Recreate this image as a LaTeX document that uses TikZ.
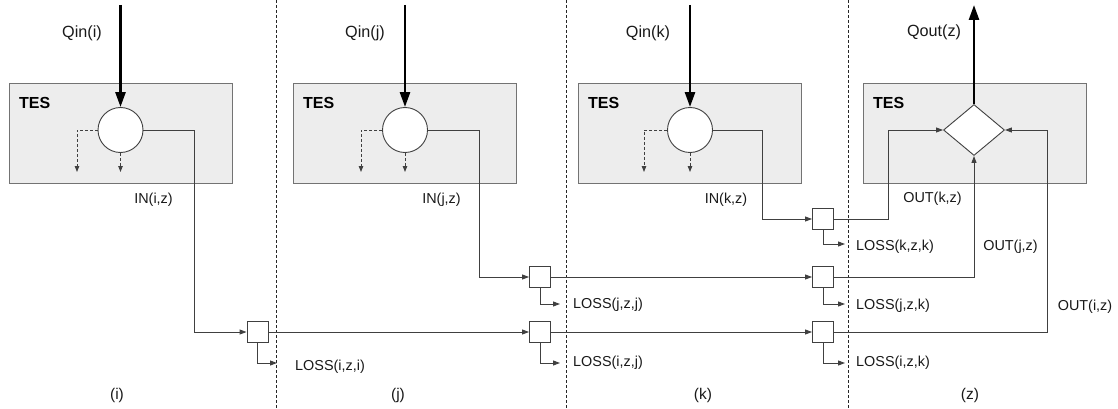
\documentclass[tikz,border=0pt]{standalone}
\usepackage{fontspec}
\setmainfont{Liberation Sans}
\usetikzlibrary{shapes.geometric,arrows.meta}
\begin{document}
\begin{tikzpicture}[x=1pt,y=-1pt,
  tesbox/.style={draw=black!55, fill=black!7, line width=0.9pt, minimum width=223pt, minimum height=100pt, inner sep=0pt},
  mixer/.style={draw=black!75, fill=white, circle, line width=0.9pt, minimum size=45pt, inner sep=0pt},
  junction/.style={draw=black!75, fill=white, line width=0.9pt, minimum size=21pt, inner sep=0pt},
  collector/.style={draw=black!75, fill=white, diamond, line width=0.9pt, minimum width=61pt, minimum height=51pt, inner sep=0pt},
  flow/.style={draw=black!75, line width=0.9pt, -{Triangle[length=7pt,width=5pt]}},
  heat/.style={draw=black, line width=2.6pt, -{Triangle[length=15pt,width=10pt]}},
  drop/.style={draw=black!75, line width=0.9pt, dash pattern=on 3pt off 2pt, -{Triangle[length=6pt,width=4.5pt]}},
  divider/.style={draw=black!85, line width=0.8pt, dash pattern=on 3pt off 2pt},
  lbl/.style={font=\fontsize{14.4}{16}\selectfont, text=black!90, inner sep=0pt},
  collbl/.style={font=\fontsize{15.5}{18}\selectfont, text=black!90, inner sep=0pt},
  qlbl/.style={font=\fontsize{16.2}{18}\selectfont, text=black!90, inner sep=0pt},
  teslbl/.style={font=\fontsize{16}{18}\selectfont\bfseries, text=black, inner sep=0pt, anchor=west}]
\useasboundingbox (0,0) rectangle (1118,409);

% column dividers
\foreach \x/\n in {276/a,566/b,848/c}{
  \coordinate (dt\n) at (\x,0);
  \coordinate (db\n) at (\x,409);
  \draw[divider] (dt\n) -- (db\n);
}

% TES boxes
\node[tesbox] (box1) at (120.5,133) {};
\node[tesbox] (box2) at (405,133) {};
\node[tesbox] (box3) at (689.5,133) {};
\node[tesbox] (box4) at (974.5,133) {};
\node[teslbl] (tes1) at (19,103) {TES};
\node[teslbl] (tes2) at (303,103) {TES};
\node[teslbl] (tes3) at (588,103) {TES};
\node[teslbl] (tes4) at (873,103) {TES};

% storage nodes
\node[mixer] (c1) at (120.5,130) {};
\node[mixer] (c2) at (405,130) {};
\node[mixer] (c3) at (690,130) {};
\node[collector] (d4) at (974,130) {};

% junctions
\node[junction] (siz1) at (257.5,332) {};
\node[junction] (sjz2) at (540,277) {};
\node[junction] (siz2) at (540,332) {};
\node[junction] (skz3) at (823,219) {};
\node[junction] (sjz3) at (823,277) {};
\node[junction] (siz3) at (823,332) {};

% heat in / out
\coordinate (qi1) at (120.5,5);
\coordinate (qi2) at (405,5);
\coordinate (qi3) at (690,5);
\coordinate (qo4) at (974,5);
\draw[heat] (qi1) -- (c1.north);
\draw[heat] (qi2) -- (c2.north);
\draw[heat] (qi3) -- (c3.north);
\draw[heat] (d4.north) -- (qo4);
\node[qlbl] (lqi1) at (82,33) {Qin(i)};
\node[qlbl] (lqi2) at (365,33) {Qin(j)};
\node[qlbl] (lqi3) at (648,33) {Qin(k)};
\node[qlbl] (lqo4) at (934,32) {Qout(z)};

% internal dashed drops
\coordinate (dl1) at (77,172); \coordinate (dd1) at (120.5,172);
\coordinate (dl2) at (361,172); \coordinate (dd2) at (405,172);
\coordinate (dl3) at (644,172); \coordinate (dd3) at (690,172);
\draw[drop] (c1.west) -| (dl1);
\draw[drop] (c1.south) -- (dd1);
\draw[drop] (c2.west) -| (dl2);
\draw[drop] (c2.south) -- (dd2);
\draw[drop] (c3.west) -| (dl3);
\draw[drop] (c3.south) -- (dd3);

% flows from storage i
\coordinate (ti1) at (194,130);
\draw[flow] (c1.east) -- (ti1) |- (siz1.west);
\draw[flow] (siz1.east) -- (siz2.west);
\draw[flow] (siz2.east) -- (siz3.west);
\coordinate (ti4) at (1047,332);
\coordinate (ti5) at (1047,130);
\draw[flow] (siz3.east) -- (ti4) -- (ti5) -- (d4.east);

% flows from storage j
\coordinate (tj1) at (479,130);
\draw[flow] (c2.east) -- (tj1) |- (sjz2.west);
\draw[flow] (sjz2.east) -- (sjz3.west);
\coordinate (tj4) at (974,277);
\draw[flow] (sjz3.east) -- (tj4) -- (d4.south);

% flows from storage k
\coordinate (tk1) at (762,130);
\draw[flow] (c3.east) -- (tk1) |- (skz3.west);
\coordinate (tk4) at (888,219);
\coordinate (tk5) at (888,130);
\draw[flow] (skz3.east) -- (tk4) -- (tk5) -- (d4.west);

% losses
\coordinate (liz1) at (277,363);
\coordinate (ljz2) at (560,304);
\coordinate (liz2) at (560,363);
\coordinate (lkz3) at (845,244);
\coordinate (ljz3) at (845,304);
\coordinate (liz3) at (845,363);
\draw[flow] (siz1.south) |- (liz1);
\draw[flow] (sjz2.south) |- (ljz2);
\draw[flow] (siz2.south) |- (liz2);
\draw[flow] (skz3.south) |- (lkz3);
\draw[flow] (sjz3.south) |- (ljz3);
\draw[flow] (siz3.south) |- (liz3);
\node[lbl, anchor=west] (tliz1) at (295,367) {LOSS(i,z,i)};
\node[lbl, anchor=west] (tljz2) at (573,305) {LOSS(j,z,j)};
\node[lbl, anchor=west] (tliz2) at (573,363) {LOSS(i,z,j)};
\node[lbl, anchor=west] (tlkz3) at (856,247) {LOSS(k,z,k)};
\node[lbl, anchor=west] (tljz3) at (856,306) {LOSS(j,z,k)};
\node[lbl, anchor=west] (tliz3) at (856,363) {LOSS(i,z,k)};

% flow labels
\node[lbl] (tin1) at (153.5,200) {IN(i,z)};
\node[lbl] (tin2) at (441.5,200) {IN(j,z)};
\node[lbl] (tin3) at (726,200) {IN(k,z)};
\node[lbl] (tout3) at (932.5,199) {OUT(k,z)};
\node[lbl] (tout2) at (1010.5,247) {OUT(j,z)};
\node[lbl] (tout1) at (1085,307) {OUT(i,z)};

% column labels
\node[collbl] (coli) at (117,395) {(i)};
\node[collbl] (colj) at (398,395) {(j)};
\node[collbl] (colk) at (703,395) {(k)};
\node[collbl] (colz) at (970,395) {(z)};
\end{tikzpicture}
\end{document}
